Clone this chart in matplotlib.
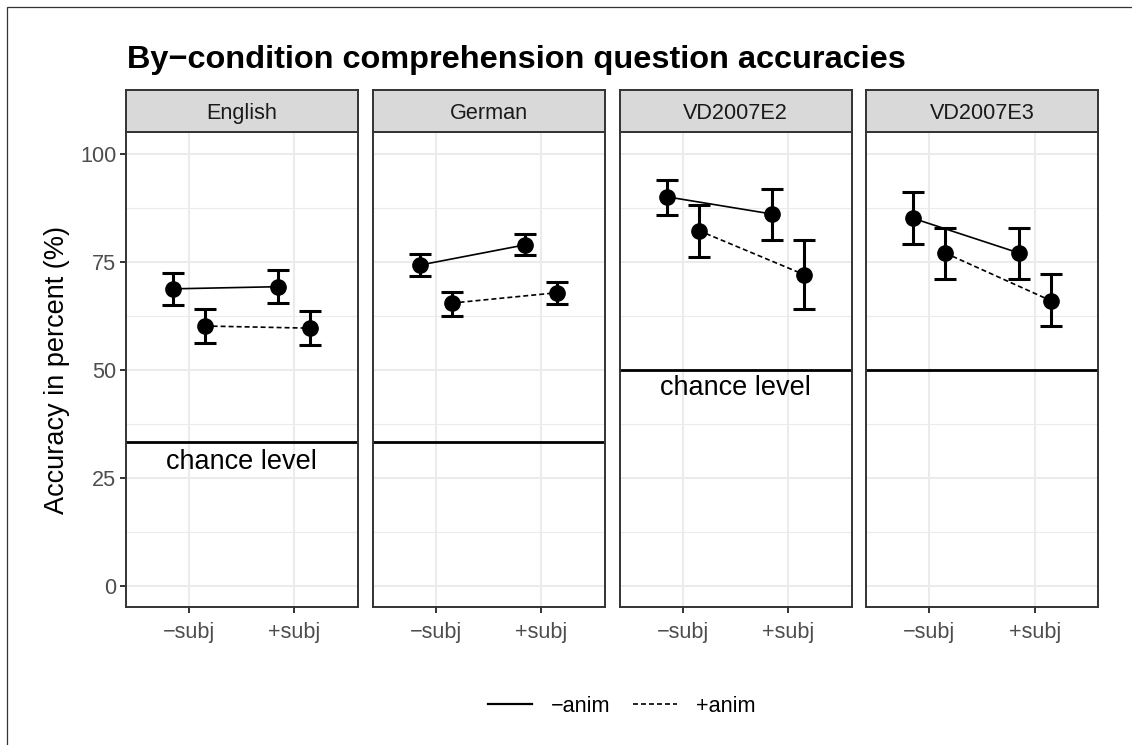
import matplotlib
matplotlib.use("Agg")
import matplotlib.pyplot as plt
from matplotlib.lines import Line2D
from matplotlib.patches import Rectangle
from matplotlib.ticker import FixedLocator

plt.rcParams['font.family'] = ['Liberation Sans', 'DejaVu Sans']

# ---------------- data ----------------
panels = ["English", "German", "VD2007E2", "VD2007E3"]
conditions = ["\u2212subj", "+subj"]
series = ["\u2212anim", "+anim"]

# mean accuracies (%) per panel: [-subj, +subj]
minus_anim_mean = [[68.7, 69.2], [74.2, 78.9], [90.0, 86.0], [85.0, 77.0]]
minus_anim_low  = [[64.9, 65.5], [71.7, 76.5], [85.9, 80.0], [79.0, 70.9]]
minus_anim_high = [[72.3, 73.1], [76.7, 81.3], [93.9, 91.9], [91.1, 82.8]]

plus_anim_mean = [[60.1, 59.6], [65.4, 67.8], [82.2, 72.0], [77.0, 66.0]]
plus_anim_low  = [[56.2, 55.6], [62.5, 65.1], [76.1, 64.0], [70.9, 60.1]]
plus_anim_high = [[64.0, 63.5], [67.9, 70.2], [88.1, 79.9], [82.8, 72.1]]

chance = [33.33, 33.33, 50.0, 50.0]
chance_label = ["chance level", None, "chance level", None]
chance_label_y = [27.0, None, 44.2, None]

yticks = [0, 25, 50, 75, 100]

# ---------------- layout ----------------
W, H = 1132, 745
fig = plt.figure(figsize=(W / 100, H / 100), dpi=100)

def fx(px):
    return px / W

def fy(py):
    return 1 - py / H

panel_left = [125.5, 372.5, 619.5, 866.0]
panel_w = 232.0
top_px, bot_px = 132.0, 607.3
strip_top = 90.0

grid_col = "#EBEBEB"
dark = "#333333"
dodge = 0.15
styles = ["-", (0, (3.0, 1.8))]

for i, name in enumerate(panels):
    ax = fig.add_axes([fx(panel_left[i]), fy(bot_px), fx(panel_w), (bot_px - top_px) / H])
    ax.set_xlim(0.4, 2.6)
    ax.set_ylim(-5, 105)
    ax.set_xticks([1, 2])
    ax.set_xticklabels(conditions)
    ax.set_yticks(yticks)
    ax.yaxis.set_minor_locator(FixedLocator([12.5, 37.5, 62.5, 87.5]))
    ax.grid(True, which="major", color=grid_col, lw=1.5, zorder=0)
    ax.grid(True, which="minor", axis="y", color=grid_col, lw=0.8, zorder=0)
    ax.set_axisbelow(True)
    for sp in ax.spines.values():
        sp.set_color(dark)
        sp.set_linewidth(1.4)
        sp.set_zorder(5)
    ax.tick_params(axis="both", which="major", length=4.2, width=1.4, color=dark,
                   labelsize=15.6, labelcolor="#4D4D4D")
    ax.tick_params(axis="x", pad=6.2)
    ax.tick_params(axis="y", pad=2.5)
    ax.tick_params(which="minor", length=0)
    if i > 0:
        ax.tick_params(axis="y", left=False, labelleft=False)

    # chance line
    ax.axhline(chance[i], color="black", lw=2.0, zorder=2)
    if chance_label[i]:
        ax.text(1.5, chance_label_y[i], chance_label[i], ha="center", va="baseline",
                fontsize=19.5, color="black", zorder=3)

    data = [(minus_anim_mean[i], minus_anim_low[i], minus_anim_high[i], -dodge),
            (plus_anim_mean[i], plus_anim_low[i], plus_anim_high[i], dodge)]
    for k, (m, lo, hi, off) in enumerate(data):
        xs = [j + 1 + off for j in range(len(conditions))]
        yerr = [[m[j] - lo[j] for j in range(2)], [hi[j] - m[j] for j in range(2)]]
        ax.errorbar(xs, m, yerr=yerr, fmt="none", ecolor="black", elinewidth=2.2,
                    capsize=7.6, capthick=2.2, zorder=4)
        ax.plot(xs, m, linestyle=styles[k], color="black", lw=1.2, zorder=3)
        ax.plot(xs, m, linestyle="none", marker="o", markersize=11,
                color="black", zorder=6)

    # strip
    sax = fig.add_axes([fx(panel_left[i]), fy(top_px), fx(panel_w), (top_px - strip_top) / H])
    sax.set_facecolor("#D9D9D9")
    sax.set_xticks([])
    sax.set_yticks([])
    for sp in sax.spines.values():
        sp.set_color(dark)
        sp.set_linewidth(1.4)
    sax.text(0.5, 0.44, name, ha="center", va="center", fontsize=15.6,
             color="#1A1A1A", transform=sax.transAxes)

# title
fig.text(fx(127), fy(68.3), "By\u2212condition comprehension question accuracies",
         fontsize=23.4, fontweight="bold", ha="left", va="baseline", color="black")

# y axis title
fig.text(fx(57), fy(370), "Accuracy in percent (%)", rotation=90, ha="center",
         va="center", fontsize=19.5, color="black")

# legend
handles = [Line2D([], [], color="black", lw=1.6, linestyle=styles[0]),
           Line2D([], [], color="black", lw=1.2, linestyle=styles[1])]
fig.legend(handles, series, loc="center", bbox_to_anchor=(fx(622), fy(706)),
           ncol=2, frameon=False, fontsize=15.6, handlelength=2.0,
           handletextpad=0.9, columnspacing=1.05)

# outer border (top and left visible)
fig.add_artist(Rectangle((fx(6.7), -0.1), 1.2, fy(7.3) + 0.1, transform=fig.transFigure,
                         fill=False, edgecolor=dark, lw=0.9))

fig.savefig("out.png", dpi=100)
